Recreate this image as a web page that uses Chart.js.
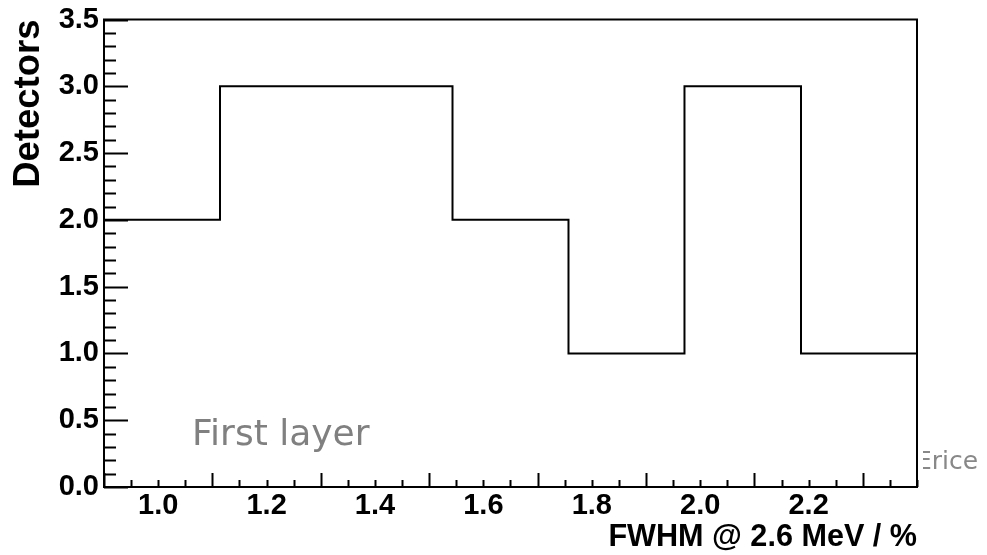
<!DOCTYPE html>
<html>
<head>
<meta charset="utf-8">
<title>FWHM histogram</title>
<script src="https://cdn.jsdelivr.net/npm/chart.js@4/dist/chart.umd.min.js"></script>
<style>
  html, body { margin: 0; padding: 0; background: #fff; }
  #hist { display: block; }
</style>
</head>
<body>
<canvas id="hist" width="987" height="555"></canvas>
<script>
// bin edges (FWHM %) and detector counts per bin
const binEdges = [0.9, 1.114, 1.329, 1.543, 1.757, 1.971, 2.186, 2.4];
const counts = [2, 3, 3, 2, 1, 3, 1];
const xTickLabels = [1.0, 1.2, 1.4, 1.6, 1.8, 2.0, 2.2];
const yTickLabels = [0, 0.5, 1.0, 1.5, 2.0, 2.5, 3.0, 3.5];

const axisFont = { family: "'Liberation Sans', Arial, sans-serif", weight: "bold", size: 29, lineHeight: 1 };

// one point per bin edge, last value repeated so the final step reaches the edge
const points = binEdges.map((x, i) => ({ x: x, y: counts[Math.min(i, counts.length - 1)] }));

// ROOT style frame with inward ticks, plus the two grey captions
const frameAndTicks = {
	id: "frameAndTicks",
	afterDraw(chart) {
		const { ctx, chartArea: a, scales } = chart;
		const xs = scales.x, ys = scales.y;
		ctx.save();
		ctx.strokeStyle = "#000";
		ctx.lineWidth = 2;
		ctx.beginPath();
		for (let k = 18; k <= 48; k++) {
			const px = Math.round(xs.getPixelForValue(k / 20)) + 0.5;
			const len = k % 4 === 2 ? 14 : 7;
			ctx.moveTo(px, a.bottom);
			ctx.lineTo(px, a.bottom - len);
		}
		for (let k = 0; k <= 35; k++) {
			const py = Math.round(ys.getPixelForValue(k / 10)) + 0.5;
			const len = k % 5 === 0 ? 24 : 12;
			ctx.moveTo(a.left, py);
			ctx.lineTo(a.left + len, py);
		}
		ctx.stroke();
		ctx.strokeRect(a.left, a.top, a.right - a.left, a.bottom - a.top);

		ctx.fillStyle = "#808080";
		ctx.textBaseline = "alphabetic";
		ctx.textAlign = "left";
		ctx.font = "36px 'DejaVu Sans', sans-serif";
		ctx.fillText("First layer", 192, 445);

		ctx.beginPath();
		ctx.rect(923, 430, 64, 60);
		ctx.clip();
		ctx.fillStyle = "#888";
		ctx.font = "25px 'DejaVu Sans', sans-serif";
		ctx.fillText("Erice", 916, 469);
		ctx.restore();
	}
};

new Chart(document.getElementById("hist"), {
	type: "line",
	data: {
		datasets: [{
			data: points,
			borderColor: "#000",
			borderWidth: 2,
			stepped: true,
			fill: false,
			pointRadius: 0,
			pointHoverRadius: 0
		}]
	},
	options: {
		responsive: false,
		animation: false,
		devicePixelRatio: 1,
		layout: { padding: { top: 19, right: 70, left: 0, bottom: 0 } },
		plugins: { legend: { display: false }, tooltip: { enabled: false } },
		scales: {
			x: {
				type: "linear",
				min: 0.9,
				max: 2.4,
				afterFit: s => { s.height = 68; },
				afterBuildTicks: s => { s.ticks = xTickLabels.map(v => ({ value: v })); },
				grid: { display: false, drawTicks: false },
				border: { display: false },
				ticks: {
					font: axisFont,
					color: "#000",
					padding: 4,
					maxRotation: 0,
					autoSkip: false,
					callback: v => Number(v).toFixed(1)
				},
				title: {
					display: true,
					text: "FWHM @ 2.6 MeV / %",
					align: "end",
					color: "#000",
					font: { family: "'Liberation Sans', Arial, sans-serif", weight: "bold", size: 30.6, lineHeight: 1 },
					padding: { top: 0, bottom: 2 }
				}
			},
			y: {
				min: 0,
				max: 3.5,
				afterFit: s => { s.width = 104; },
				afterBuildTicks: s => { s.ticks = yTickLabels.map(v => ({ value: v })); },
				grid: { display: false, drawTicks: false },
				border: { display: false },
				ticks: {
					font: axisFont,
					color: "#000",
					padding: 5,
					callback: v => Number(v).toFixed(1)
				},
				title: {
					display: true,
					text: "Detectors",
					align: "end",
					color: "#000",
					font: { family: "'Liberation Sans', Arial, sans-serif", weight: "bold", size: 36.5, lineHeight: 1 },
					padding: { top: 11, bottom: 0 }
				}
			}
		}
	},
	plugins: [frameAndTicks]
});
</script>
</body>
</html>
